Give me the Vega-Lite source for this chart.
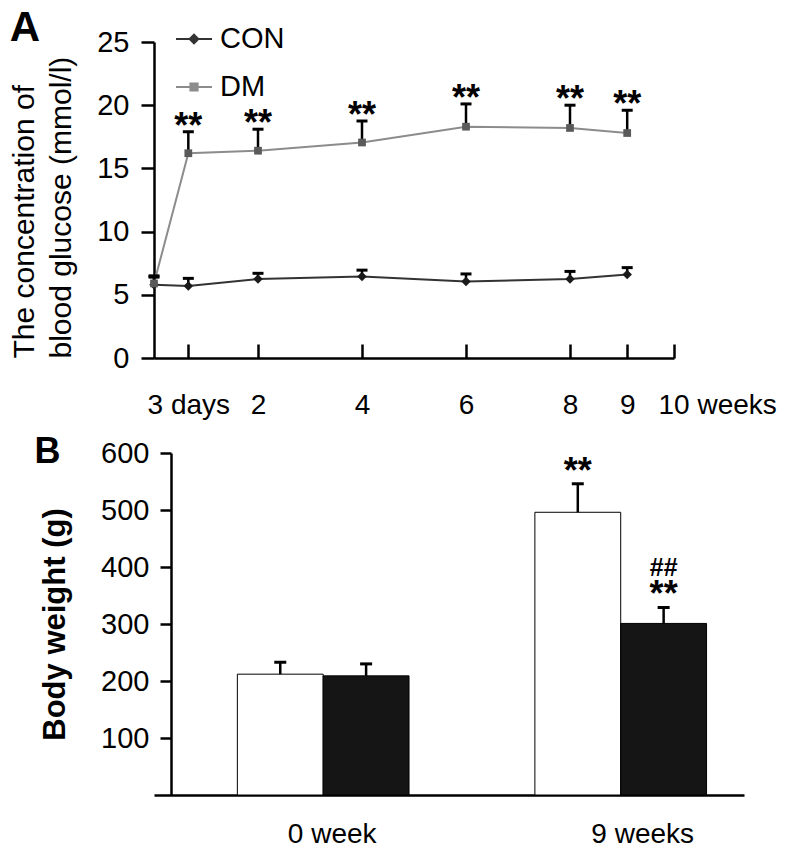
{
  "$schema": "https://vega.github.io/schema/vega-lite/v6.json",
  "background": "white",
  "padding": {"left": 9, "top": 7, "right": 5, "bottom": 5},
  "spacing": 15,
  "config": {
    "font": "Liberation Sans",
    "view": {"stroke": null},
    "axis": {"grid": false, "domainColor": "black", "domainWidth": 2.5, "tickColor": "black", "tickWidth": 2.5, "labelColor": "black", "titleColor": "black", "labelFont": "Liberation Sans", "titleFont": "Liberation Sans"},
    "legend": {"labelFont": "Liberation Sans", "labelColor": "black"},
    "title": {"font": "Liberation Sans", "color": "black"}
  },
  "vconcat": [
    {
      "title": {"text": "A", "anchor": "start", "frame": "bounds", "fontSize": 42, "fontWeight": "bold", "offset": -18, "baseline": "alphabetic", "dy": 37},
      "width": 520,
      "height": 316,
      "data": {"values": [
        {"week": 0, "tp": "0", "group": "CON", "glucose": 5.8, "upper": 6.4, "sig": ""},
        {"week": 0.66, "tp": "3 days", "group": "CON", "glucose": 5.7, "upper": 6.3, "sig": ""},
        {"week": 2, "tp": "2", "group": "CON", "glucose": 6.25, "upper": 6.7, "sig": ""},
        {"week": 4, "tp": "4", "group": "CON", "glucose": 6.45, "upper": 6.95, "sig": ""},
        {"week": 6, "tp": "6", "group": "CON", "glucose": 6.05, "upper": 6.65, "sig": ""},
        {"week": 8, "tp": "8", "group": "CON", "glucose": 6.25, "upper": 6.85, "sig": ""},
        {"week": 9.1, "tp": "9", "group": "CON", "glucose": 6.6, "upper": 7.15, "sig": ""},
        {"week": 0, "tp": "0", "group": "DM", "glucose": 5.9, "upper": 6.5, "sig": ""},
        {"week": 0.66, "tp": "3 days", "group": "DM", "glucose": 16.2, "upper": 17.9, "sig": "**"},
        {"week": 2, "tp": "2", "group": "DM", "glucose": 16.4, "upper": 18.1, "sig": "**"},
        {"week": 4, "tp": "4", "group": "DM", "glucose": 17.05, "upper": 18.75, "sig": "**"},
        {"week": 6, "tp": "6", "group": "DM", "glucose": 18.3, "upper": 20.1, "sig": "**"},
        {"week": 8, "tp": "8", "group": "DM", "glucose": 18.2, "upper": 20.0, "sig": "**"},
        {"week": 9.1, "tp": "9", "group": "DM", "glucose": 17.8, "upper": 19.6, "sig": "**"}
      ]},
      "encoding": {
        "x": {
          "field": "week", "type": "quantitative",
          "scale": {"domain": [0, 10], "nice": false, "zero": false},
          "axis": {
            "title": null,
            "values": [0.66, 2, 4, 6, 8, 9.1, 10],
            "labelExpr": "datum.value < 1 ? '3 days' : datum.value == 10 ? '10 weeks' : datum.value > 9 ? '9' : datum.label",
            "tickSize": -14,
            "labelPadding": 47,
            "labelFontSize": 28,
            "labelFlush": false,
            "labelOverlap": false,
            "labelAlign": {"condition": {"test": "datum.value == 10", "value": "left"}, "value": "center"},
            "labelOffset": {"condition": {"test": "datum.value == 10", "value": -16}, "value": 0}
          }
        }
      },
      "layer": [
        {
          "mark": {"type": "line", "strokeWidth": 2},
          "encoding": {
            "y": {
              "field": "glucose", "type": "quantitative",
              "scale": {"domain": [0, 25], "nice": false},
              "axis": {
                "title": ["The concentration of", "blood glucose (mmol/l)"],
                "values": [0, 5, 10, 15, 20, 25],
                "tickSize": 13,
                "labelPadding": 12,
                "labelFontSize": 29,
                "titleFontSize": 30,
                "titleFontWeight": "normal",
                "titleAnchor": "start",
                "titleAlign": "left",
                "titlePadding": 20,
                "titleLineHeight": 37
              }
            },
            "color": {
              "field": "group", "type": "nominal",
              "scale": {"domain": ["CON", "DM"], "range": ["#333333", "#8c8c8c"]},
              "legend": {
                "orient": "none", "legendX": 21, "legendY": -22, "title": null,
                "labelFontSize": 29, "symbolSize": 1296, "labelOffset": 7, "rowPadding": 14,
                "encode": {"symbols": {"update": {
                  "shape": {"signal": "datum.value === 'CON' ? 'M-1,0L1,0M0,-0.24L0.24,0L0,0.24L-0.24,0ZM0,-0.13L0.13,0L0,0.13L-0.13,0ZM0,-0.04L0.04,0L0,0.04L-0.04,0Z' : 'M-1,0L1,0M-0.2,-0.2L0.2,-0.2L0.2,0.2L-0.2,0.2ZM-0.1,-0.1L0.1,-0.1L0.1,0.1L-0.1,0.1ZM-0.02,-0.02L0.02,-0.02L0.02,0.02L-0.02,0.02Z'"},
                  "fill": {"signal": "datum.value === 'CON' ? '#1a1a1a' : '#5f5f5f'"},
                  "stroke": {"signal": "datum.value === 'CON' ? '#2a2a2a' : '#7a7a7a'"},
                  "strokeWidth": {"value": 2},
                  "opacity": {"value": 1}
                }}}
              }
            }
          }
        },
        {
          "mark": {"type": "rule", "color": "black", "strokeWidth": 2.5},
          "encoding": {
            "y": {"field": "glucose", "type": "quantitative"},
            "y2": {"field": "upper"}
          }
        },
        {
          "mark": {"type": "tick", "orient": "horizontal", "color": "black", "thickness": 3, "size": 11, "opacity": 1},
          "encoding": {"y": {"field": "upper", "type": "quantitative"}}
        },
        {
          "transform": [{"filter": "datum.group == 'CON'"}],
          "mark": {"type": "point", "shape": "diamond", "filled": true, "size": 90, "color": "#1a1a1a", "opacity": 1},
          "encoding": {"y": {"field": "glucose", "type": "quantitative"}}
        },
        {
          "transform": [{"filter": "datum.group == 'DM'"}],
          "mark": {"type": "point", "shape": "square", "filled": true, "size": 60, "color": "#5a5a5a", "opacity": 1},
          "encoding": {"y": {"field": "glucose", "type": "quantitative"}}
        },
        {
          "transform": [{"filter": "datum.sig != ''"}],
          "mark": {"type": "text", "fontSize": 36, "fontWeight": "bold", "color": "black", "baseline": "alphabetic", "dy": 6},
          "encoding": {
            "y": {"field": "upper", "type": "quantitative"},
            "text": {"field": "sig"}
          }
        }
      ]
    },
    {
      "title": {"text": "B", "anchor": "start", "frame": "bounds", "fontSize": 36, "fontWeight": "bold", "offset": -24, "baseline": "alphabetic", "dy": 36, "dx": -5},
      "width": 590,
      "height": 342,
      "data": {"values": [
        {"week": "0 week", "group": "CON", "weight": 212, "upper": 233, "sig": "", "hash": ""},
        {"week": "0 week", "group": "DM", "weight": 209, "upper": 230, "sig": "", "hash": ""},
        {"week": "9 weeks", "group": "CON", "weight": 496, "upper": 546, "sig": "**", "hash": ""},
        {"week": "9 weeks", "group": "DM", "weight": 301, "upper": 329, "sig": "**", "hash": "##"}
      ]},
      "encoding": {
        "x": {
          "field": "week", "type": "nominal",
          "scale": {"domain": ["0 week", "9 weeks"], "paddingInner": 0.423, "paddingOuter": 0.203, "align": 0.69},
          "axis": {
            "title": null, "labelAngle": 0, "ticks": false, "labelFontSize": 28, "labelPadding": 25,
            "labelOffset": {"condition": {"test": "datum.value == '9 weeks'", "value": 22}, "value": 9}
          }
        },
        "xOffset": {
          "field": "group", "type": "nominal",
          "scale": {"domain": ["CON", "DM"], "paddingInner": 0, "paddingOuter": 0}
        }
      },
      "layer": [
        {
          "mark": {"type": "bar", "stroke": "black", "strokeWidth": 1, "opacity": 1},
          "encoding": {
            "y": {
              "field": "weight", "type": "quantitative",
              "scale": {"domain": [0, 600], "nice": false},
              "axis": {
                "title": "Body weight (g)",
                "values": [100, 200, 300, 400, 500, 600],
                "tickSize": 11,
                "labelPadding": 11,
                "labelFontSize": 29,
                "titleFontSize": 31,
                "titleFontWeight": "bold",
                "titlePadding": 29,
                "offset": -17
              }
            },
            "fill": {
              "field": "group", "type": "nominal",
              "scale": {"domain": ["CON", "DM"], "range": ["white", "#151515"]},
              "legend": {
                "orient": "none", "legendX": 52, "legendY": 29, "title": null,
                "symbolType": "square", "symbolSize": 441, "symbolStrokeColor": "black", "symbolStrokeWidth": 1,
                "labelFontSize": 28, "labelOffset": 8, "rowPadding": 10
              }
            }
          }
        },
        {
          "mark": {"type": "rule", "color": "black", "strokeWidth": 2.5},
          "encoding": {
            "y": {"field": "weight", "type": "quantitative"},
            "y2": {"field": "upper"}
          }
        },
        {
          "mark": {"type": "tick", "orient": "horizontal", "color": "black", "thickness": 3, "size": 12, "opacity": 1},
          "encoding": {"y": {"field": "upper", "type": "quantitative"}}
        },
        {
          "transform": [{"filter": "datum.sig != ''"}],
          "mark": {"type": "text", "fontSize": 36, "fontWeight": "bold", "color": "black", "baseline": "alphabetic", "dy": -1},
          "encoding": {
            "y": {"field": "upper", "type": "quantitative"},
            "text": {"field": "sig"}
          }
        },
        {
          "transform": [{"filter": "datum.hash != ''"}],
          "mark": {"type": "text", "fontSize": 25, "fontWeight": "bold", "color": "black", "baseline": "alphabetic", "dy": -31},
          "encoding": {
            "y": {"field": "upper", "type": "quantitative"},
            "text": {"field": "hash"}
          }
        }
      ]
    }
  ]
}
